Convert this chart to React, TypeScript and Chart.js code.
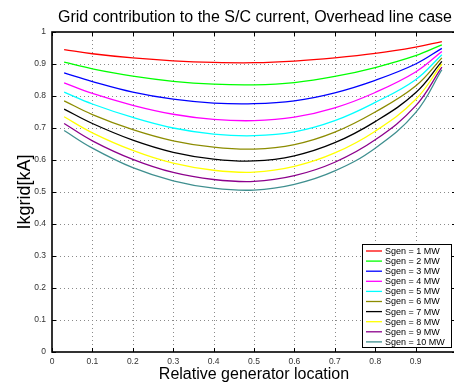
import React, { useEffect, useRef } from 'react';
import { Chart, registerables } from 'chart.js';

Chart.register(...registerables);

// Relative generator location (x) sample positions
const xPositions = [0.03, 0.1, 0.2, 0.3, 0.4, 0.5, 0.6, 0.7, 0.8, 0.9, 0.965];

// Ikgrid [kA] for each generator size
const sgen1 = [0.945, 0.932, 0.919, 0.910, 0.905, 0.904, 0.909, 0.919, 0.933, 0.953, 0.970];
const sgen2 = [0.906, 0.885, 0.862, 0.846, 0.837, 0.835, 0.842, 0.861, 0.889, 0.926, 0.960];
const sgen3 = [0.872, 0.845, 0.812, 0.790, 0.778, 0.776, 0.785, 0.810, 0.849, 0.900, 0.949];
const sgen4 = [0.841, 0.808, 0.771, 0.743, 0.727, 0.723, 0.734, 0.763, 0.811, 0.875, 0.939];
const sgen5 = [0.812, 0.775, 0.733, 0.700, 0.681, 0.676, 0.688, 0.723, 0.780, 0.851, 0.929];
const sgen6 = [0.785, 0.742, 0.695, 0.660, 0.640, 0.634, 0.648, 0.687, 0.750, 0.831, 0.919];
const sgen7 = [0.759, 0.714, 0.662, 0.624, 0.603, 0.597, 0.613, 0.654, 0.720, 0.810, 0.908];
const sgen8 = [0.735, 0.685, 0.630, 0.590, 0.568, 0.562, 0.580, 0.622, 0.690, 0.789, 0.900];
const sgen9 = [0.714, 0.660, 0.602, 0.561, 0.539, 0.533, 0.551, 0.593, 0.663, 0.769, 0.890];
const sgen10 = [0.692, 0.637, 0.576, 0.535, 0.512, 0.506, 0.524, 0.566, 0.637, 0.748, 0.882];

const seriesValues = [sgen1, sgen2, sgen3, sgen4, sgen5, sgen6, sgen7, sgen8, sgen9, sgen10];
const seriesLabels = [
  'Sgen = 1 MW', 'Sgen = 2 MW', 'Sgen = 3 MW', 'Sgen = 4 MW', 'Sgen = 5 MW',
  'Sgen = 6 MW', 'Sgen = 7 MW', 'Sgen = 8 MW', 'Sgen = 9 MW', 'Sgen = 10 MW',
];
const seriesColors = [
  '#ff0000', '#00ff00', '#0000ff', '#ff00ff', '#00ffff',
  '#8c8c00', '#000000', '#ffff00', '#8c008c', '#3f8f8f',
];

const titleText = 'Grid contribution to the S/C current, Overhead line case';
const xTitle = 'Relative generator location';
const yTitle = 'Ikgrid[kA]';

const FONT = '"Liberation Sans", Arial, Helvetica, sans-serif';

const decorPlugin = {
  id: 'decor',
  beforeDatasetsDraw(chart: any) {
    const { ctx, chartArea: a, scales } = chart;
    const x = scales.x, y = scales.y;
    ctx.save();
    ctx.strokeStyle = '#8a8a8a';
    ctx.lineWidth = 1;
    ctx.setLineDash([1, 3]);
    for (const t of x.ticks) {
      if (t.value <= 0 || t.value >= 1) continue;
      const px = Math.round(x.getPixelForValue(t.value)) + 0.5;
      ctx.beginPath();
      ctx.moveTo(px, a.top);
      ctx.lineTo(px, a.bottom);
      ctx.stroke();
    }
    for (const t of y.ticks) {
      if (t.value <= 0 || t.value >= 1) continue;
      const py = Math.round(y.getPixelForValue(t.value)) + 0.5;
      ctx.beginPath();
      ctx.moveTo(a.left, py);
      ctx.lineTo(a.right, py);
      ctx.stroke();
    }
    ctx.restore();
  },
  afterDraw(chart: any) {
    const { ctx, chartArea: a, scales } = chart;
    const x = scales.x, y = scales.y;
    ctx.save();
    // axes box
    ctx.strokeStyle = '#000';
    ctx.lineWidth = 1.6;
    ctx.strokeRect(a.left, a.top, a.right - a.left, a.bottom - a.top);
    // inward ticks
    ctx.lineWidth = 1;
    const tl = 4;
    for (const t of x.ticks) {
      const px = Math.round(x.getPixelForValue(t.value)) + 0.5;
      ctx.beginPath();
      ctx.moveTo(px, a.bottom); ctx.lineTo(px, a.bottom - tl);
      ctx.moveTo(px, a.top); ctx.lineTo(px, a.top + tl);
      ctx.stroke();
    }
    for (const t of y.ticks) {
      const py = Math.round(y.getPixelForValue(t.value)) + 0.5;
      ctx.beginPath();
      ctx.moveTo(a.left, py); ctx.lineTo(a.left + tl, py);
      ctx.moveTo(a.right, py); ctx.lineTo(a.right - tl, py);
      ctx.stroke();
    }
    // title
    ctx.fillStyle = '#000';
    ctx.textAlign = 'center';
    ctx.textBaseline = 'alphabetic';
    ctx.font = `16px ${FONT}`;
    ctx.fillText(titleText, (a.left + a.right) / 2 + 1, 22);
    // x title
    ctx.font = `16px ${FONT}`;
    ctx.fillText(xTitle, (a.left + a.right) / 2, 379);
    // y title
    ctx.save();
    ctx.translate(30, (a.top + a.bottom) / 2);
    ctx.rotate(-Math.PI / 2);
    ctx.font = `18px ${FONT}`;
    ctx.fillText(yTitle, 0, 0);
    ctx.restore();
    // legend
    const lx = 362.5, ly = 244.5, lw = 89, lh = 103;
    ctx.fillStyle = '#fff';
    ctx.fillRect(lx, ly, lw, lh);
    ctx.strokeStyle = '#000';
    ctx.lineWidth = 1;
    ctx.strokeRect(lx, ly, lw, lh);
    ctx.font = `9px ${FONT}`;
    ctx.textAlign = 'left';
    ctx.textBaseline = 'middle';
    chart.data.datasets.forEach((ds: any, i: number) => {
      const cy = 251 + i * 10.1;
      ctx.strokeStyle = ds.borderColor;
      ctx.lineWidth = 1.3;
      ctx.beginPath();
      ctx.moveTo(366, cy);
      ctx.lineTo(382, cy);
      ctx.stroke();
      ctx.fillStyle = '#000';
      ctx.fillText(ds.label, 385, cy + 0.5);
    });
    ctx.restore();
  },
};

export default function App() {
  const ref = useRef<HTMLCanvasElement | null>(null);

  useEffect(() => {
    if (!ref.current) return;
    const tickFont = { family: FONT, size: 8.5 };
    const chart = new Chart(ref.current, {
      type: 'line',
      data: {
        datasets: seriesValues.map((vals, i) => ({
          label: seriesLabels[i],
          data: xPositions.map((xv, j) => ({ x: xv, y: vals[j] })),
          borderColor: seriesColors[i],
          backgroundColor: seriesColors[i],
          borderWidth: 1.3,
          pointRadius: 0,
          fill: false,
          tension: 0.4,
        })),
      },
      options: {
        responsive: false,
        animation: false,
        layout: { padding: { top: 32, right: 6, left: 0, bottom: 0 } },
        plugins: {
          legend: { display: false },
          title: { display: false },
          tooltip: { enabled: false },
        },
        scales: {
          x: {
            type: 'linear',
            min: 0,
            max: 1,
            grid: { display: false, drawTicks: false },
            border: { display: false },
            ticks: {
              stepSize: 0.1,
              padding: 5,
              color: '#333',
              font: tickFont,
              maxRotation: 0,
              autoSkip: false,
              callback: (v: any) => (v >= 1 ? '' : String(Math.round(v * 10) / 10)),
            },
            afterFit: (s: any) => { s.height = 30; },
          },
          y: {
            type: 'linear',
            min: 0,
            max: 1,
            grid: { display: false, drawTicks: false },
            border: { display: false },
            ticks: {
              stepSize: 0.1,
              padding: 6,
              color: '#333',
              font: tickFont,
              autoSkip: false,
              callback: (v: any) => String(Math.round(v * 10) / 10),
            },
            afterFit: (s: any) => { s.width = 52; },
          },
        },
      } as any,
      plugins: [decorPlugin],
    });
    return () => chart.destroy();
  }, []);

  return (
    <div style={{ position: 'fixed', left: 0, top: 0, width: 454, height: 382, overflow: 'hidden', background: '#fff' }}>
      <canvas ref={ref} width={462} height={382} style={{ width: 462, height: 382, display: 'block' }} />
    </div>
  );
}
